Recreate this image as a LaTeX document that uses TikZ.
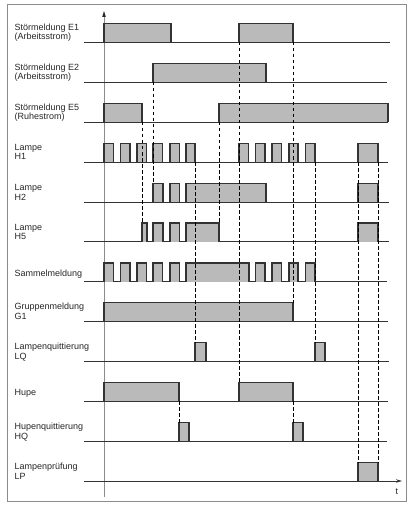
\documentclass[tikz,border=0pt]{standalone}
\usepackage{fontspec}
\setmainfont{Liberation Sans}
\usetikzlibrary{arrows.meta}
\tikzset{
  frame/.style={draw=black!45, line width=0.9pt},
  axisline/.style={draw=black!45, line width=0.8pt},
  sigbase/.style={draw=black!80, line width=0.9pt},
  pulsefill/.style={fill=black!27},
  pulseedge/.style={draw=black!80, line width=1.1pt, line join=miter},
  guide/.style={draw=black, dash pattern=on 3.5pt off 2.5pt, line width=0.8pt},
  lab/.style={anchor=base west, inner sep=0pt, font=\fontsize{9}{10}\selectfont, text=black!85}
}
\newcommand\mypulse[3]{%
  \fill[pulsefill] (#1,#3) rectangle (#2,#3-18.5);
  \draw[pulseedge] (#1,#3) -- (#1,#3-18.5) -- (#2,#3-18.5) -- (#2,#3);}
\begin{document}
\begin{tikzpicture}[x=1pt,y=-1pt]
\useasboundingbox (0,0) rectangle (409,505);
% frame
\draw[frame] (7,4.5) rectangle (406.5,501);
% time axis (vertical)
\draw[axisline] (104,497) -- (104,16);
\fill[black!85] (104,11) -- (102.2,17) -- (105.8,17) -- cycle;

% baselines
\foreach \b/\e in {42/390,82/387,122/388,162/388,202/389,241.5/389,281.5/387,321/388,361/389,401/388,441/387}
  \draw[sigbase] (84,\b) -- (\e,\b);
\draw[sigbase,-{Stealth[length=6pt,width=3.5pt]}] (84,481) -- (402,481);
\node[lab] (tlab) at (395.5,494) {t};

% E1
\mypulse{104}{171}{42}
\mypulse{239}{293}{42}
% E2
\mypulse{153}{266}{82}
% E5
\mypulse{104}{142}{122}
\mypulse{219}{388}{122}
% H1
\foreach \a/\c in {104/113.5,120.5/130,137/146.5,153/162.5,170/179.5,186/195,239/248.5,255.5/265,272/281.5,289/298,305.5/315,358/378}
  {\mypulse{\a}{\c}{162}}
% H2
\foreach \a/\c in {153/163,170/179.5,186/266,358/378}
  {\mypulse{\a}{\c}{202}}
% H5
\foreach \a/\c in {142/147,153/163,170/179.5,186/219,358/378}
  {\mypulse{\a}{\c}{241.5}}
% Sammelmeldung
\foreach \a/\c in {104/113.5,120.5/130,137/146.5,153/162.5,170/179.5,186/249,255.5/265,272/281.5,289/298,305.5/315}
  {\mypulse{\a}{\c}{281.5}}
% G1
\mypulse{104}{293}{321}
% LQ
\mypulse{195}{206}{361}
\mypulse{315}{325}{361}
% Hupe
\mypulse{104}{179}{401}
\mypulse{239}{293}{401}
% HQ
\mypulse{179}{189}{441}
\mypulse{293}{303}{441}
% LP
\mypulse{358}{378}{481}

% dashed guides
\foreach \x/\s/\t in {142/122/223, 153/82/183.5, 195/162/342.5, 219/122/223, 239/42/382.5,
  293/42/302.5, 293/401/422.5, 179/401/422.5, 315/162/342.5, 358/162/462.5, 378/162/462.5}
  \draw[guide] (\x,\s) -- (\x,\t);

% labels
\node[lab] (e1a) at (14.5,30.5) {Störmeldung E1};
\node[lab] (e1b) at (14.5,40) {(Arbeitsstrom)};
\node[lab] (e2a) at (14.5,70.5) {Störmeldung E2};
\node[lab] (e2b) at (14.5,80) {(Arbeitsstrom)};
\node[lab] (e5a) at (14.5,110.5) {Störmeldung E5};
\node[lab] (e5b) at (14.5,120) {(Ruhestrom)};
\node[lab] (h1a) at (14.5,150.5) {Lampe};
\node[lab] (h1b) at (14.5,160) {H1};
\node[lab] (h2a) at (14.5,190.5) {Lampe};
\node[lab] (h2b) at (14.5,200) {H2};
\node[lab] (h5a) at (14.5,230) {Lampe};
\node[lab] (h5b) at (14.5,239.5) {H5};
\node[lab] (sm) at (14.5,276.5) {Sammelmeldung};
\node[lab] (g1a) at (14.5,309.5) {Gruppenmeldung};
\node[lab] (g1b) at (14.5,319) {G1};
\node[lab] (lqa) at (14.5,349.5) {Lampenquittierung};
\node[lab] (lqb) at (14.5,359) {LQ};
\node[lab] (hu) at (14.5,395.5) {Hupe};
\node[lab] (hqa) at (14.5,429.5) {Hupenquittierung};
\node[lab] (hqb) at (14.5,439) {HQ};
\node[lab] (lpa) at (14.5,469.5) {Lampenprüfung};
\node[lab] (lpb) at (14.5,479) {LP};
\end{tikzpicture}
\end{document}
